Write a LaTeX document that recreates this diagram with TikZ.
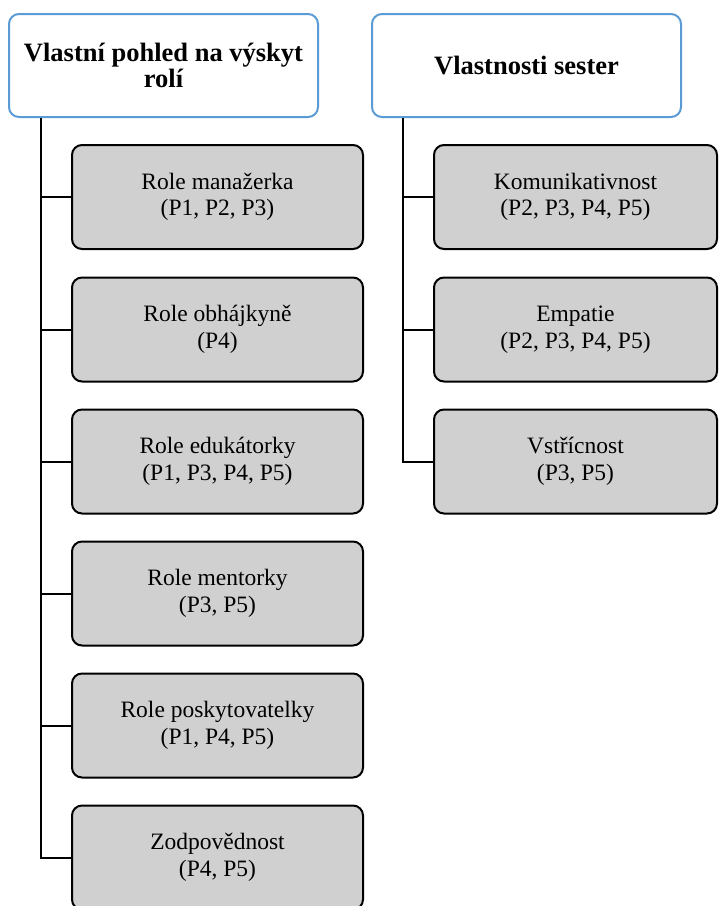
\documentclass[tikz,border=0pt]{standalone}
\usepackage{fontspec}
\setmainfont{Liberation Serif}
\newfontfamily\diagserif{Liberation Serif}
\definecolor{headblue}{RGB}{91,155,213}
\definecolor{boxgray}{RGB}{208,208,208}
\tikzset{
  headbox/.style={draw=headblue, line width=2pt, rounded corners=10pt, fill=white,
    minimum width=309pt, minimum height=103pt, align=center, inner sep=0pt,
    font=\diagserif\fontsize{26.5}{26}\selectfont\bfseries},
  childbox/.style={draw=black, line width=2pt, rounded corners=10pt, fill=boxgray,
    minimum width=291pt, minimum height=104pt, align=center, inner sep=0pt,
    font=\diagserif\fontsize{23.5}{26.5}\selectfont},
  conn/.style={draw=black, line width=2pt}
}
\begin{document}
\begin{tikzpicture}[x=1pt,y=-1pt]
\useasboundingbox[fill=white] (0,0) rectangle (719,906);
% headers
\node[headbox] (h1) at (163.5,65.5) {Vlastní pohled na výskyt\\rolí};
\node[headbox] (h2) at (526.5,65.5) {Vlastnosti sester};
% trunk coordinates
\coordinate (lt) at (41,0);
\coordinate (rt) at (403,0);
% left children
\node[childbox] (l1) at (217.5,197) {Role manažerka\\(P1, P2, P3)};
\node[childbox] (l2) at (217.5,329.5) {Role obhájkyně\\(P4)};
\node[childbox] (l3) at (217.5,461.5) {Role edukátorky\\(P1, P3, P4, P5)};
\node[childbox] (l4) at (217.5,593.5) {Role mentorky\\(P3, P5)};
\node[childbox] (l5) at (217.5,725.5) {Role poskytovatelky\\(P1, P4, P5)};
\node[childbox] (l6) at (217.5,857.5) {Zodpovědnost\\(P4, P5)};
% right children
\node[childbox, minimum width=283pt] (r1) at (575.5,197) {Komunikativnost\\(P2, P3, P4, P5)};
\node[childbox, minimum width=283pt] (r2) at (575.5,329.5) {Empatie\\(P2, P3, P4, P5)};
\node[childbox, minimum width=283pt] (r3) at (575.5,461.5) {Vstřícnost\\(P3, P5)};
% connectors left
\draw[conn] (lt |- h1.south) |- (l6.west);
\foreach \n in {l1,l2,l3,l4,l5}{
  \draw[conn] (lt |- \n.west) -- (\n.west);
}
% connectors right
\draw[conn] (rt |- h2.south) |- (r3.west);
\foreach \n in {r1,r2}{
  \draw[conn] (rt |- \n.west) -- (\n.west);
}
\end{tikzpicture}
\end{document}
